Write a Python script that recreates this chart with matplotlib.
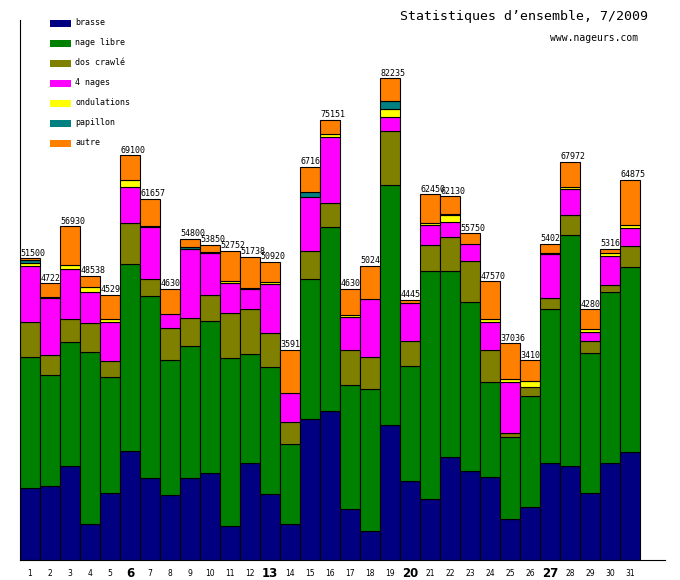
import numpy as np
import matplotlib
matplotlib.use("Agg")
import matplotlib.pyplot as plt
from matplotlib.patches import Rectangle

days = list(range(1, 32))
sundays = [6, 13, 20, 27]

brasse = [12240, 12580, 16000, 6090, 11390, 18550, 13950, 11040, 13950, 14800, 5750,
          16560, 11210, 6090, 24020, 25380, 8650, 4900, 22990, 13430, 10360, 17530,
          15140, 14120, 6950, 9000, 16510, 16000, 11390, 16510, 18380]
nage_libre = [22360, 18950, 21170, 29360, 19800, 31920, 31070, 23040, 22530, 25950, 28680,
              18550, 21680, 13660, 23900, 31410, 21170, 24240, 40970, 19630, 38920, 31750,
              28850, 16220, 14000, 18950, 26290, 39430, 23900, 29190, 31580]
dos_crawle = [5980, 3410, 3930, 4950, 2730, 7000, 2900, 5460, 4780, 4440, 7680,
              7680, 5800, 3760, 4780, 4100, 5970, 5460, 9220, 4270, 4440, 5800,
              7000, 5460, 680, 1540, 1880, 3410, 2050, 1190, 3580]
quatre_nages = [9560, 9730, 8540, 5390, 6660, 6150, 8880, 2390, 11880, 7170, 5120,
                3410, 8360, 4950, 9320, 11370, 5740, 9900, 2490, 6490, 3520, 2660,
                2900, 4780, 8710, 0, 7510, 4440, 1540, 4950, 3070]
ondulations = [510, 300, 680, 800, 510, 1190, 170, 0, 0, 170, 340,
               170, 340, 0, 0, 430, 340, 0, 1260, 0, 250, 1200,
               0, 510, 510, 1020, 170, 340, 510, 510, 510]
papillon = [510, 0, 0, 0, 0, 0, 0, 0, 340, 0, 0,
            0, 0, 0, 730, 0, 0, 0, 1370, 0, 0, 170,
            0, 0, 0, 0, 0, 0, 0, 0, 0]
autre = [340, 2250, 6610, 1948, 4200, 4290, 4687, 4370, 1320, 1320, 5182,
         5368, 3530, 7450, 4410, 2461, 4430, 5740, 3935, 630, 4960, 3020,
         1860, 6480, 6186, 3590, 1660, 4352, 3410, 810, 7755]
totals = [51500, 47220, 56930, 48538, 45290, 69100, 61657, 46300, 54800, 53850, 52752,
          51738, 50920, 35910, 67160, 75151, 46300, 50240, 82235, 44450, 62450, 62130,
          55750, 47570, 37036, 34100, 54020, 67972, 42800, 53160, 64875]

series = [
    ("brasse", brasse, "#000080"),
    ("nage libre", nage_libre, "#008000"),
    ("dos crawlé", dos_crawle, "#808000"),
    ("4 nages", quatre_nages, "#ff00ff"),
    ("ondulations", ondulations, "#ffff00"),
    ("papillon", papillon, "#008080"),
    ("autre", autre, "#ff8000"),
]

W, H = 680, 580
fig = plt.figure(figsize=(W / 100, H / 100), dpi=100)
ax = fig.add_axes([20 / W, 20 / H, 645 / W, 540 / H])

bottom = np.zeros(len(days))
for name, vals, col in series:
    bars = ax.bar(days, vals, bottom=bottom, width=1.0, color=col,
                  edgecolor="black", linewidth=0.8)
    for i, p in enumerate(bars.patches):
        p.set_zorder(2 + 2 * i)
        if vals[i] == 0:
            p.set_visible(False)
    bottom += np.array(vals)

# totals above bars, later bars hide the overlapping digits
for i, (d, t) in enumerate(zip(days, totals)):
    ax.annotate(str(t), xy=(d - 0.5, t), xytext=(0.3, 1.8), textcoords="offset points",
                ha="left", va="baseline", fontsize=6, family="DejaVu Sans Mono",
                zorder=3 + 2 * i, annotation_clip=False)

ax.set_xlim(0.5, 32.75)
ax.set_ylim(0, 92180)
for s in ["top", "right"]:
    ax.spines[s].set_visible(False)
for s in ["left", "bottom"]:
    ax.spines[s].set_linewidth(0.8)
    ax.spines[s].set_color("black")
ax.set_yticks([])
ax.set_xticks(days)
ax.set_xticklabels([str(d) for d in days])
ax.tick_params(axis="x", length=0, pad=10)
for d, lab in zip(days, ax.get_xticklabels()):
    lab.set_va("center")
    if d in sundays:
        lab.set_fontsize(8.5)
        lab.set_fontweight("bold")
    else:
        lab.set_fontsize(5.5)

# legend
for k, (name, vals, col) in enumerate(series):
    yc = 23.3 + 20 * k
    fig.add_artist(Rectangle((50 / W, 1 - (yc + 3.4) / H), 21 / W, 6.8 / H,
                             transform=fig.transFigure, facecolor=col, edgecolor="none"))
    fig.text(75 / W, 1 - (yc - 0.8) / H, name, ha="left", va="center",
             fontsize=6, family="DejaVu Sans Mono")

fig.text(400 / W, 1 - 16.7 / H, "Statistiques d’ensemble, 7/2009", ha="left", va="center",
         fontsize=9.5, family="DejaVu Sans Mono")
fig.text(550.5 / W, 1 - 37.7 / H, "www.nageurs.com", ha="left", va="center",
         fontsize=7, family="DejaVu Sans Mono")

fig.savefig("out.png", dpi=100)
